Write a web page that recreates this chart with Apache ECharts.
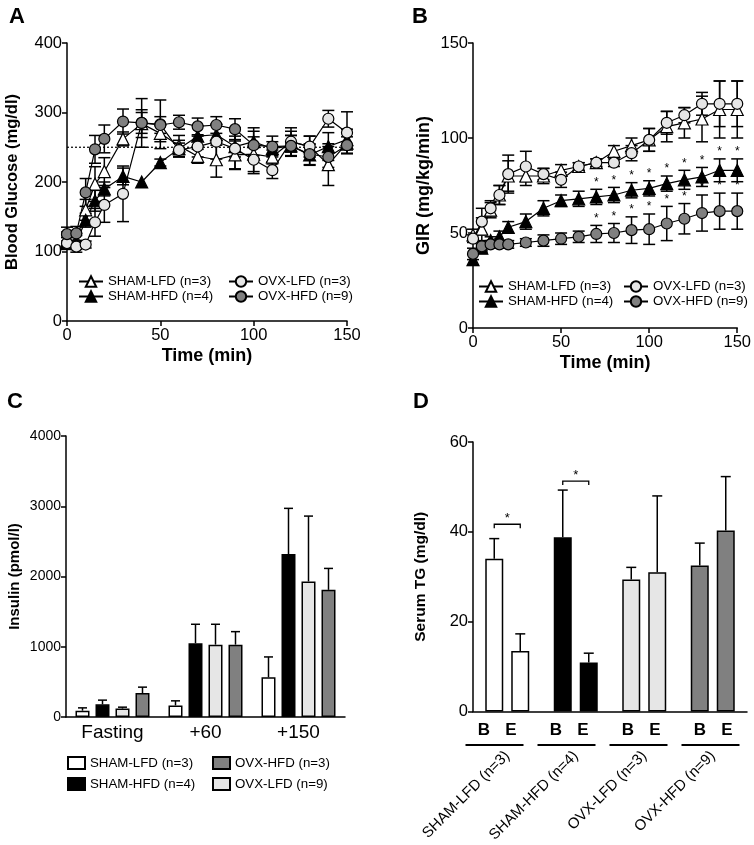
<!DOCTYPE html>
<html><head><meta charset="utf-8">
<script src="https://cdn.jsdelivr.net/npm/echarts@6/dist/echarts.min.js"></script>
<style>html,body{margin:0;padding:0;background:#fff}#c{width:754px;height:845px}</style>
</head><body><div id="c"></div><script>
// ---------- DATA ----------
const timeMin = [0,5,10,15,20,30,40,50,60,70,80,90,100,110,120,130,140,150];
const groupNames = ['SHAM-LFD (n=3)','SHAM-HFD (n=4)','OVX-LFD (n=3)','OVX-HFD (n=9)'];

// Panel A: blood glucose (mg/dl), mean and SEM
const glucoseShamLfd    = [116,116,160,197,215,262,284,270,252,237,232,239,240,236,258,251,225,256];
const glucoseShamLfdErr = [12,10,15,25,20,10,20,12,15,10,25,20,25,10,20,15,30,15];
const glucoseShamHfd    = [113,113,145,173,190,208,200,228,248,266,268,251,258,248,252,239,251,261];
const glucoseShamHfdErr = [10,10,10,15,10,12,0,5,12,15,15,15,20,10,15,15,20,15];
const glucoseOvxLfd     = [112,107,110,142,167,183,285,283,246,251,258,248,232,217,258,251,291,271];
const glucoseOvxLfdErr  = [8,8,5,20,25,40,35,35,10,15,25,30,20,12,15,15,12,30];
const glucoseOvxHfd     = [125,126,185,247,262,287,285,282,286,280,282,276,253,251,252,240,236,253];
const glucoseOvxHfdErr  = [10,10,20,20,20,18,15,12,10,12,12,15,20,15,15,15,15,12];
const glucoseTarget = 250;

// Panel B: GIR (mg/kg/min)
const girShamLfd    = [49,52,62,70,80,80,80,83,85,87,93,96,99,106,108,110,115,115];
const girShamLfdErr = [3,6,4,5,8,5,4,3,2,2,3,4,6,8,8,12,15,15];
const girShamHfd    = [36,42,46,48,53,56,63,67,68,69,70,72.5,73.5,76,78,79.5,83,83];
const girShamHfdErr = [3,2,2,3,3,4,4,3,4,4,4,4,4,4,5,5,6,6];
const girOvxLfd     = [47,56,63,70,81,85,81,78,85,87,87,92,99,108,112,118,118,118];
const girOvxLfdErr  = [2,7,4,5,10,8,3,4,2,2,2,4,6,6,4,6,12,12];
const girOvxHfd     = [39,43,44,44,44,45,46,47,48,49.5,50,51.5,52,55,57.5,60.5,61.5,61.5];
const girOvxHfdErr  = [3,2,2,2,2,2,3,3,3,4.5,5,7,8,9,8,9.5,9.5,9.5];
const girStarTimes  = [70,80,90,100,110,120,130,140,150];

// Panel C: insulin (pmol/l)
const insulinCategories = ['Fasting','+60','+150'];
const insulinNames = ['SHAM-LFD (n=3) ','SHAM-HFD (n=4) ','OVX-LFD (n=9)','OVX-HFD (n=3)'];
const insulinShamLfd    = [90,165,565];
const insulinShamLfdErr = [40,65,290];
const insulinShamHfd    = [180,1050,2320];
const insulinShamHfdErr = [60,270,650];
const insulinOvxLfd     = [120,1030,1930];
const insulinOvxLfdErr  = [20,290,930];
const insulinOvxHfd     = [340,1030,1810];
const insulinOvxHfdErr  = [85,185,305];

// Panel D: serum TG (mg/dl), B = basal, E = end
const tgBasal    = [34,38.8,29.4,32.5];
const tgBasalErr = [4.5,10.5,2.7,5];
const tgEnd      = [13.5,10.9,31,40.3];
const tgEndErr   = [3.8,2.1,17,12];
const tgSigBrackets = [[0,41.7],[1,51.3]];

// ---------- STYLE ----------
const FONT = '"Liberation Sans", Arial, Helvetica, sans-serif';
const WHITE='#ffffff', BLACK='#000000', LIGHT='#e6e6e6', DARK='#808080';
const groupColors = [WHITE, BLACK, LIGHT, DARK];
const AX = {color:'#000', width:1.5};

function pairs(xs, ys){ return xs.map((x,i)=>[x, ys[i]]); }
function triples(xs, ys, es){ return xs.map((x,i)=>[x, ys[i], es[i]]); }

function lineSeries(name, gi, ys, symbol, color, size){
  return {type:'line', name, xAxisIndex:gi, yAxisIndex:gi, data:pairs(timeMin, ys),
    symbol, symbolSize:size, showSymbol:true, z:3,
    lineStyle:{color:'#000', width:1.2},
    itemStyle:{color, borderColor:'#000', borderWidth:1.2}};
}
function errSeries(gi, xs, ys, es, capW, upOnly, dx){
  return {type:'custom', xAxisIndex:gi, yAxisIndex:gi, data:triples(xs, ys, es), z:2, silent:true, clip:false,
    encode:{x:0, y:1},
    renderItem:(p, api)=>{
      const x=api.value(0), m=api.value(1), e=api.value(2);
      if(!e) return null;
      const t=api.coord([x, m+e]), b=api.coord([x, upOnly ? m : m-e]);
      const cx=t[0]+(dx||0);
      const st={stroke:'#000', lineWidth:1.5};
      const ch=[{type:'line',shape:{x1:cx,y1:t[1],x2:cx,y2:b[1]},style:st},
                {type:'line',shape:{x1:cx-capW/2,y1:t[1],x2:cx+capW/2,y2:t[1]},style:st}];
      if(!upOnly) ch.push({type:'line',shape:{x1:cx-capW/2,y1:b[1],x2:cx+capW/2,y2:b[1]},style:st});
      return {type:'group', children:ch};
    }};
}
function starSeries(gi, ys, es){
  const data = girStarTimes.map(t=>{const i=timeMin.indexOf(t); return [t, ys[i], es[i]];});
  return {type:'custom', xAxisIndex:gi, yAxisIndex:gi, data, z:4, silent:true, clip:false, encode:{x:0,y:1},
    renderItem:(p, api)=>{
      const c=api.coord([api.value(0), api.value(1)+api.value(2)]);
      return {type:'text', style:{text:'*', x:c[0], y:c[1]-7, align:'center', verticalAlign:'middle',
        font:'12px '+FONT, fill:'#000'}};
    }};
}
function valueAxis(gi, min, max, interval, name, nameGap, nameSize, labelSize){
  return {type:'value', gridIndex:gi, min, max, interval,
    name, nameLocation:'middle', nameGap, nameTextStyle:{fontSize:nameSize, fontWeight:'bold', color:'#000', fontFamily:FONT},
    axisLine:{show:true, lineStyle:AX}, axisTick:{show:true, length:5, lineStyle:AX},
    splitLine:{show:false}, axisLabel:{fontSize:labelSize, color:'#000', margin:5, fontFamily:FONT, formatter:v=>String(v)}};
}

const barBorder = {borderColor:'#000', borderWidth:1.5};
function insulinBar(name, vals, color){
  return {type:'bar', name, xAxisIndex:2, yAxisIndex:2, data:vals, barWidth:14, barGap:'42.86%',
    itemStyle:Object.assign({color}, barBorder), z:2};
}
function tgBar(name, vals){
  return {type:'bar', name, xAxisIndex:3, yAxisIndex:3, barWidth:18, barGap:'44.4%',
    data: vals.map((v,i)=>({value:v, itemStyle:Object.assign({color:groupColors[i]}, barBorder)})), z:2};
}

const legendText = {fontSize:13.3, color:'#000', fontFamily:FONT};
function legend(left, top, data, extra){
  return Object.assign({left, top, orient:'vertical', padding:0, itemGap:2, itemWidth:24, itemHeight:13,
    selectedMode:false, data, textStyle:legendText}, extra||{});
}

const option = {
  animation:false,
  textStyle:{fontFamily:FONT},
  title:[
    {text:'A', left:4, top:1, textStyle:{fontSize:22, fontWeight:'bold', color:'#000', fontFamily:FONT}},
    {text:'B', left:407, top:1, textStyle:{fontSize:22, fontWeight:'bold', color:'#000', fontFamily:FONT}},
    {text:'C', left:2, top:386, textStyle:{fontSize:22, fontWeight:'bold', color:'#000', fontFamily:FONT}},
    {text:'D', left:408, top:386, textStyle:{fontSize:22, fontWeight:'bold', color:'#000', fontFamily:FONT}}
  ],
  grid:[
    {left:67, top:43, width:280, height:278},
    {left:473, top:43, width:266, height:285},
    {left:66, top:436, width:279, height:281},
    {left:473, top:442, width:274, height:275},
    {left:461.5, top:442, width:288, height:275}
  ],
  legend:[
    legend(78, 275, [groupNames[0], groupNames[1]]),
    legend(228, 275, [groupNames[2], groupNames[3]]),
    legend(478, 280, [groupNames[0], groupNames[1]]),
    legend(623, 280, [groupNames[2], groupNames[3]]),
    legend(67, 756, [insulinNames[0], insulinNames[1]], {icon:'rect', itemWidth:17, itemHeight:12, itemGap:7}),
    legend(212, 756, [insulinNames[3], insulinNames[2]], {icon:'rect', itemWidth:17, itemHeight:12, itemGap:7})
  ],
  xAxis:[
    Object.assign(valueAxis(0, 0, 150, 50, 'Time (min)', 26, 18, 16.5), {axisLabel:{fontSize:16.5, color:'#000', margin:6}}),
    Object.assign(valueAxis(1, 0, 150, 50, 'Time (min)', 26, 18, 16.5), {axisLabel:{fontSize:16.5, color:'#000', margin:6}}),
    {type:'category', gridIndex:2, data:insulinCategories, boundaryGap:true,
      axisLine:{lineStyle:AX}, axisTick:{alignWithLabel:true, length:5, lineStyle:AX},
      axisLabel:{fontSize:19, color:'#000', margin:6, interval:0}},
    {type:'category', gridIndex:3, data:groupNames, boundaryGap:true,
      axisLine:{lineStyle:AX}, axisTick:{alignWithLabel:true, length:5, lineStyle:AX},
      axisLabel:{show:false}},
    {type:'category', gridIndex:4, data:groupNames, boundaryGap:true,
      axisLine:{show:false}, axisTick:{show:false},
      axisLabel:{interval:0, margin:5, formatter:()=>'{b|B}{b|E}',
        rich:{b:{width:27, align:'center', fontSize:17, fontWeight:'bold', color:'#000', fontFamily:FONT}}}},
    {type:'category', gridIndex:3, data:groupNames, position:'bottom', offset:34, boundaryGap:true,
      axisLine:{show:false}, axisTick:{show:false},
      axisLabel:{interval:0, rotate:45, margin:8, fontSize:15, color:'#000'}}
  ],
  yAxis:[
    valueAxis(0, 0, 400, 100, 'Blood Glucose (mg/dl)', 46, 16.5, 16.5),
    valueAxis(1, 0, 150, 50, 'GIR (mg/kg/min)', 40, 18, 16.5),
    valueAxis(2, 0, 4000, 1000, 'Insulin (pmol/l)', 44, 15, 14),
    valueAxis(3, 0, 60, 20, 'Serum TG (mg/dl)', 44, 15.5, 16.5),
    {type:'value', gridIndex:4, min:0, max:60, show:false}
  ],
  series:[
    // Panel A
    {type:'line', name:'target', xAxisIndex:0, yAxisIndex:0, data:[[timeMin[0], glucoseTarget],[timeMin[timeMin.length-1], glucoseTarget]],
      symbol:'none', lineStyle:{type:[2,2], color:'#000', width:1.2}, z:1, silent:true},
    errSeries(0, timeMin, glucoseShamLfd, glucoseShamLfdErr, 12, false),
    errSeries(0, timeMin, glucoseShamHfd, glucoseShamHfdErr, 12, false),
    errSeries(0, timeMin, glucoseOvxLfd, glucoseOvxLfdErr, 12, false),
    errSeries(0, timeMin, glucoseOvxHfd, glucoseOvxHfdErr, 12, false),
    lineSeries(groupNames[0], 0, glucoseShamLfd, 'triangle', WHITE, 12),
    lineSeries(groupNames[1], 0, glucoseShamHfd, 'triangle', BLACK, 12),
    lineSeries(groupNames[2], 0, glucoseOvxLfd, 'circle', LIGHT, 11),
    lineSeries(groupNames[3], 0, glucoseOvxHfd, 'circle', DARK, 11),
    // Panel B
    errSeries(1, timeMin, girShamLfd, girShamLfdErr, 12, false),
    errSeries(1, timeMin, girShamHfd, girShamHfdErr, 12, false),
    errSeries(1, timeMin, girOvxLfd, girOvxLfdErr, 12, false),
    errSeries(1, timeMin, girOvxHfd, girOvxHfdErr, 12, false),
    lineSeries(groupNames[0], 1, girShamLfd, 'triangle', WHITE, 12),
    lineSeries(groupNames[1], 1, girShamHfd, 'triangle', BLACK, 12),
    lineSeries(groupNames[2], 1, girOvxLfd, 'circle', LIGHT, 11),
    lineSeries(groupNames[3], 1, girOvxHfd, 'circle', DARK, 11),
    starSeries(1, girShamHfd, girShamHfdErr),
    starSeries(1, girOvxHfd, girOvxHfdErr),
    // Panel C
    insulinBar(insulinNames[0], insulinShamLfd, WHITE),
    insulinBar(insulinNames[1], insulinShamHfd, BLACK),
    insulinBar(insulinNames[2], insulinOvxLfd, LIGHT),
    insulinBar(insulinNames[3], insulinOvxHfd, DARK),
    errSeries(2, [0,1,2], insulinShamLfd, insulinShamLfdErr, 9, true, -30),
    errSeries(2, [0,1,2], insulinShamHfd, insulinShamHfdErr, 9, true, -10),
    errSeries(2, [0,1,2], insulinOvxLfd, insulinOvxLfdErr, 9, true, 10),
    errSeries(2, [0,1,2], insulinOvxHfd, insulinOvxHfdErr, 9, true, 30),
    // Panel D
    tgBar('B', tgBasal),
    tgBar('E', tgEnd),
    errSeries(3, [0,1,2,3], tgBasal, tgBasalErr, 10, true, -13),
    errSeries(3, [0,1,2,3], tgEnd, tgEndErr, 10, true, 13),
    {type:'custom', xAxisIndex:3, yAxisIndex:3, data:tgSigBrackets, z:4, silent:true, clip:false, encode:{x:0,y:1},
      renderItem:(p, api)=>{
        const c=api.coord([api.value(0), api.value(1)]);
        const x1=c[0]-13, x2=c[0]+13, y=c[1];
        return {type:'group', children:[
          {type:'polyline', shape:{points:[[x1,y+4],[x1,y],[x2,y],[x2,y+4]]}, style:{stroke:'#000', lineWidth:1.3, fill:null}},
          {type:'text', style:{text:'*', x:c[0], y:y-6, align:'center', verticalAlign:'middle', font:'13px '+FONT, fill:'#000'}}
        ]};
      }},
    {type:'custom', xAxisIndex:4, yAxisIndex:4, data:groupNames.map((g,i)=>[i,0]), z:4, silent:true, clip:false, encode:{x:0,y:1},
      renderItem:(p, api)=>{
        const c=api.coord([api.value(0), 0]);
        return {type:'line', shape:{x1:c[0]-32, y1:c[1]+28, x2:c[0]+26, y2:c[1]+28}, style:{stroke:'#000', lineWidth:2}};
      }}
  ]
};
const chart = echarts.init(document.getElementById('c'));
chart.setOption(option);
</script></body></html>
